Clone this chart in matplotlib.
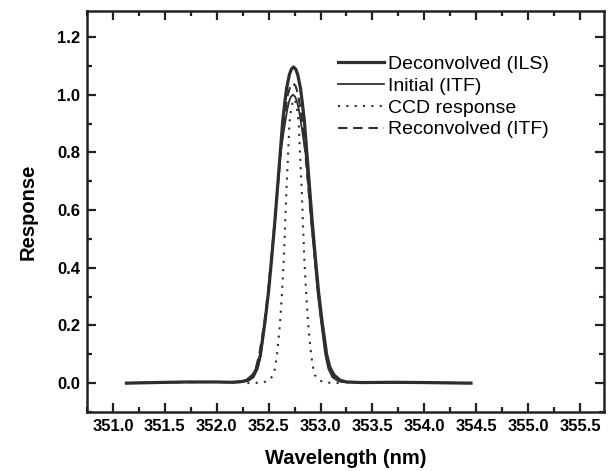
"""
Instrument line shape: deconvolved, initial, CCD and reconvolved responses
"""

import matplotlib
matplotlib.use("Agg")
import matplotlib.pyplot as plt
from matplotlib.ticker import MultipleLocator

plt.rcParams["font.family"] = ["Liberation Sans", "DejaVu Sans"]

# values
deconv_x = [351.13, 351.4, 351.7, 352.0, 352.15, 352.25, 352.29, 352.35, 352.39,
            352.42, 352.465, 352.50, 352.532, 352.56, 352.585, 352.61, 352.635,
            352.655, 352.673, 352.70, 352.72, 352.74, 352.76, 352.78, 352.807,
            352.825, 352.845, 352.87, 352.895, 352.92, 352.948, 352.98, 353.015,
            353.06, 353.09, 353.13, 353.19, 353.25, 353.4, 353.7, 354.0, 354.2,
            354.45]
deconv_y = [0.0, 0.002, 0.004, 0.004, 0.003, 0.006, 0.01, 0.028, 0.055,
            0.097, 0.213, 0.32, 0.444, 0.56, 0.675, 0.79, 0.906,
            0.97, 1.022, 1.07, 1.089, 1.096, 1.089, 1.07, 1.022,
            0.97, 0.906, 0.79, 0.675, 0.56, 0.444, 0.32, 0.213,
            0.097, 0.055, 0.028, 0.01, 0.004, 0.002, 0.003, 0.002, 0.001,
            0.0]

initial_x = [351.13, 351.5, 351.8, 352.0, 352.15, 352.235, 352.305, 352.355,
             352.395, 352.425, 352.465, 352.50, 352.53, 352.56, 352.585, 352.615,
             352.66, 352.68, 352.70, 352.715, 352.735, 352.755, 352.77, 352.79,
             352.81, 352.855, 352.885, 352.91, 352.94, 352.97, 353.005, 353.045,
             353.075, 353.115, 353.165, 353.235, 353.35, 353.7, 354.1, 354.45]
initial_y = [0.0, 0.003, 0.004, 0.004, 0.003, 0.004, 0.008, 0.02,
             0.05, 0.1, 0.213, 0.32, 0.444, 0.56, 0.675, 0.8,
             0.906, 0.95, 0.98, 0.993, 1.0, 0.993, 0.98, 0.95,
             0.906, 0.8, 0.675, 0.56, 0.444, 0.32, 0.213, 0.1,
             0.05, 0.02, 0.008, 0.004, 0.002, 0.002, 0.002, 0.0]

ccd_x = [352.295, 352.445, 352.505, 352.545, 352.56, 352.58, 352.595, 352.611,
         352.63, 352.648, 352.66, 352.672, 352.687, 352.70, 352.717, 352.731,
         352.745, 352.759, 352.773, 352.79, 352.803, 352.818, 352.83, 352.842,
         352.86, 352.879, 352.895, 352.91, 352.93, 352.945, 352.985, 353.045,
         353.195]
ccd_y = [0.0, 0.002, 0.01, 0.028, 0.05, 0.097, 0.15, 0.213,
         0.32, 0.444, 0.56, 0.675, 0.79, 0.9, 0.95, 0.975,
         0.985, 0.975, 0.95, 0.9, 0.79, 0.675, 0.56, 0.444,
         0.32, 0.213, 0.15, 0.097, 0.05, 0.028, 0.01, 0.002,
         0.0]

reconv_x = [351.13, 351.6, 352.0, 352.2, 352.275, 352.335, 352.375, 352.41,
            352.46, 352.495, 352.528, 352.558, 352.587, 352.615, 352.645,
            352.685, 352.71, 352.735, 352.76, 352.785, 352.825, 352.855,
            352.883, 352.912, 352.942, 352.975, 353.01, 353.06, 353.095,
            353.135, 353.195, 353.3, 353.8, 354.45]
reconv_y = [0.0, 0.003, 0.004, 0.003, 0.005, 0.02, 0.05, 0.1,
            0.213, 0.32, 0.444, 0.56, 0.675, 0.79, 0.906,
            1.0, 1.03, 1.04, 1.03, 1.0, 0.906, 0.79,
            0.675, 0.56, 0.444, 0.32, 0.213, 0.1, 0.05,
            0.02, 0.005, 0.002, 0.002, 0.0]

ink = "#2e2e2e"

fig = plt.figure(figsize=(6.10, 4.71), dpi=100)
ax = fig.add_axes([0.1426, 0.1253, 0.8474, 0.8513])

ax.plot(deconv_x, deconv_y, color=ink, lw=2.3, label="Deconvolved (ILS)")
ax.plot(initial_x, initial_y, color=ink, lw=1.3, label="Initial (ITF)")
ax.plot(ccd_x, ccd_y, color=ink, lw=1.5, linestyle=(0, (1, 3)),
        label="CCD response")
ax.plot(reconv_x, reconv_y, color=ink, lw=1.5, linestyle=(0, (4.5, 2.8)),
        label="Reconvolved (ITF)")

ax.set_xlim(350.75, 355.73)
ax.set_ylim(-0.1, 1.29)
ax.xaxis.set_major_locator(MultipleLocator(0.5))
ax.xaxis.set_minor_locator(MultipleLocator(0.25))
ax.yaxis.set_major_locator(MultipleLocator(0.2))
ax.yaxis.set_minor_locator(MultipleLocator(0.1))
ax.xaxis.set_major_formatter(plt.FormatStrFormatter("%.1f"))
ax.yaxis.set_major_formatter(plt.FormatStrFormatter("%.1f"))

ax.tick_params(which="both", direction="in", top=True, right=True,
               color="#222222", width=1.6)
ax.tick_params(which="major", length=6.5, labelsize=12, pad=5)
ax.tick_params(which="minor", length=3.5)
for lbl in ax.get_xticklabels() + ax.get_yticklabels():
    lbl.set_fontweight("bold")
for sp in ax.spines.values():
    sp.set_linewidth(1.8)
    sp.set_color("#222222")

ax.set_xlabel("Wavelength (nm)", fontsize=14.5, fontweight="bold", labelpad=11)
ax.set_ylabel("Response", fontsize=14.5, fontweight="bold", labelpad=14)

ax.legend(loc="upper left", bbox_to_anchor=(0.485, 0.89), frameon=False,
          fontsize=14, handlelength=2.4, handletextpad=0.2,
          labelspacing=0.22, borderpad=0, borderaxespad=0)

fig.savefig("out.png", dpi=100)
